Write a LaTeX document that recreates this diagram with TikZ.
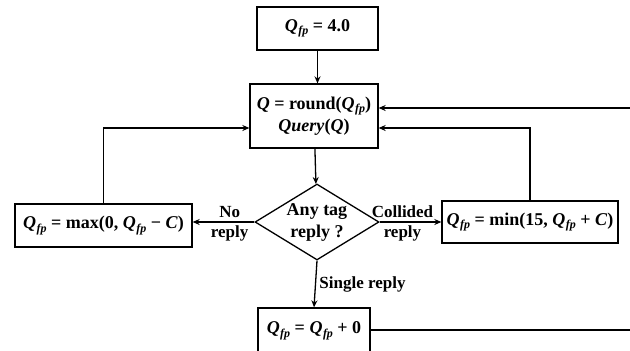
\documentclass[tikz,border=0pt]{standalone}
\usepackage{fontspec}
\setmainfont{Liberation Serif}
\usetikzlibrary{arrows.meta,shapes.geometric}

\newcommand{\Qv}{\textit{Q}}
\newcommand{\Qfp}{\textit{Q}\kern0.5pt\raisebox{-3.5pt}{\fontsize{12}{12}\selectfont\textit{fp}}}

\tikzset{
    box/.style={draw, line width=1.3pt, inner sep=0pt, align=center},
    decision/.style={draw, diamond, line width=1.3pt, inner sep=0pt, aspect=1.63, align=center},
    arr/.style={-{Stealth[length=7pt,width=6pt]}, line width=1.3pt},
    lbl/.style={font=\bfseries\fontsize{17}{19}\selectfont, align=center}
}

\begin{document}
\begin{tikzpicture}[x=1pt, y=-1pt, font=\bfseries\fontsize{18}{22}\selectfont]
    \useasboundingbox (0,0) rectangle (630,351);
    \clip (0,0) rectangle (630,351);

    % boxes
    \node[box, minimum width=121pt, minimum height=43pt] (init) at (317.5,28.5) {\Qfp{} = 4.0};
    \node[box, minimum width=128pt, minimum height=64pt] (query) at (314,116) {\Qv{} = round(\Qfp)\\\textit{Query}(\Qv)};
    \node[decision, minimum width=124pt, minimum height=76pt] (test) at (317,222) {Any tag\\reply ?};
    \node[box, minimum width=177pt, minimum height=43pt] (dec) at (103.5,225.5) {\Qfp{} = max(0,\ \Qfp{} − \textit{C})};
    \node[box, minimum width=176pt, minimum height=42pt] (inc) at (530,222) {\Qfp{} = min(15,\ \Qfp{} + \textit{C})};
    \node[box, minimum width=112pt, minimum height=46pt] (keep) at (314,331) {\Qfp{} = \Qfp{} + 0};

    \coordinate (outlow) at (630,330);
    \coordinate (outhigh) at (630,108);

    % connectors
    \draw[arr] (init) -- (init |- query.north);
    \draw[arr] (query) -- (test);
    \draw[arr] (test.west) -- (dec.east |- test.west)
        node[lbl, pos=0.4, above] {No}
        node[lbl, pos=0.4, below] {reply};
    \draw[arr] (test.east) -- (inc.west |- test.east)
        node[lbl, pos=0.37, above] {Collided}
        node[lbl, pos=0.37, below] {reply};
    \draw[arr] (test.south) -- (keep.north)
        node[lbl, midway, right] {Single reply};
    \draw[arr] (dec.north) |- ([yshift=-12pt]query.west);
    \draw[arr] (inc.north) |- ([yshift=-12pt]query.east);
    \draw[line width=1.3pt] (keep.east |- outlow) -- (outlow);
    \draw[arr] (outhigh) -- ([yshift=8pt]query.east);
\end{tikzpicture}
\end{document}
